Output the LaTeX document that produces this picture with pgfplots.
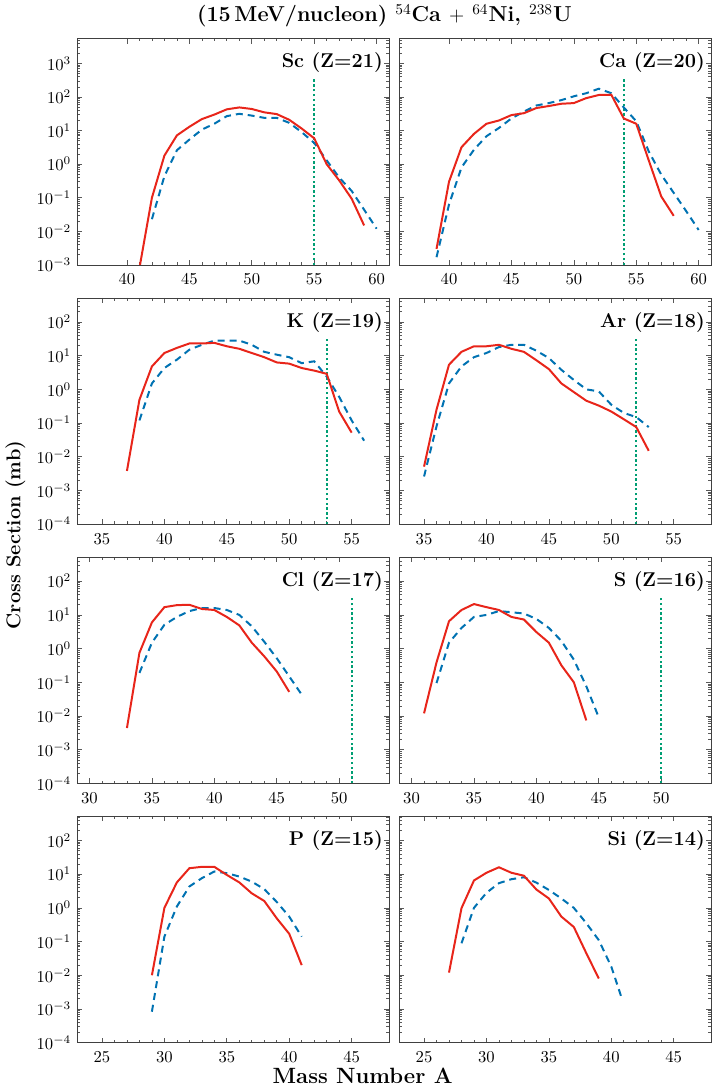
\documentclass[border=0pt]{standalone}
\usepackage{pgfplots}
\pgfplotsset{compat=1.18}
\usepgfplotslibrary{groupplots}

\definecolor{cred}{HTML}{E8251A}
\definecolor{cblue}{HTML}{0072B2}
\definecolor{cgreen}{HTML}{009E73}

\pgfplotsset{
  tdhf/.style={cred, line width=1.2pt, mark=none},
  gem/.style={cblue, line width=1.2pt, dash pattern=on 4.2pt off 3pt, mark=none},
  nline/.style={cgreen, line width=1.3pt, dash pattern=on 1.4pt off 1.5pt, mark=none},
  rowA/.style={xmin=36, xmax=61, ymin=1e-3, ymax=5500, xtick={40,45,...,60},
    ytick={1e-3,1e-2,1e-1,1,10,100,1000},
    minor ytick={2e-3,3e-3,4e-3,5e-3,6e-3,7e-3,8e-3,9e-3,
      2e-2,3e-2,4e-2,5e-2,6e-2,7e-2,8e-2,9e-2,
      0.2,0.3,0.4,0.5,0.6,0.7,0.8,0.9,2,3,4,5,6,7,8,9,
      20,30,40,50,60,70,80,90,200,300,400,500,600,700,800,900,
      2000,3000,4000,5000}},
  rowB/.style={ymin=1e-4, ymax=520, ytick={1e-4,1e-3,1e-2,1e-1,1,10,100},
    minor ytick={2e-4,3e-4,4e-4,5e-4,6e-4,7e-4,8e-4,9e-4,
      2e-3,3e-3,4e-3,5e-3,6e-3,7e-3,8e-3,9e-3,
      2e-2,3e-2,4e-2,5e-2,6e-2,7e-2,8e-2,9e-2,
      0.2,0.3,0.4,0.5,0.6,0.7,0.8,0.9,2,3,4,5,6,7,8,9,
      20,30,40,50,60,70,80,90,200,300,400,500}},
}
\newcommand{\zlab}[1]{\node[anchor=north east, font=\large\bfseries, inner sep=0pt,
  xshift=-3.6pt, yshift=-8.5pt] at (rel axis cs:1,1) {#1};}

\begin{document}
\begin{tikzpicture}
\begin{groupplot}[
  group style={group size=2 by 4, horizontal sep=6pt, vertical sep=19.8pt,
    yticklabels at=edge left},
  scale only axis, width=187.8pt, height=136.2pt,
  ymode=log, clip mode=individual,
  tick align=inside, xtick pos=both, ytick pos=both,
  minor x tick num=4,
  major tick length=3pt, minor tick length=1.7pt,
  axis line style={black!75},
  every tick/.style={black!65},
  tick label style={font=\normalsize},
  xticklabel style={yshift=-2pt},
]
% ---- row 1
\nextgroupplot[rowA]
\addplot[nline] coordinates {(55,1e-3) (55,355)};
\addplot[gem] coordinates {(42,0.023) (43,0.44) (44,2.6) (45,5.4) (46,10.7) (47,16) (48,27) (49,31.6) (50,28) (51,24) (52,24) (53,17) (54,9) (55,4.3) (56,1.3) (57,0.4) (58,0.16) (59,0.044) (60,0.012)};
\addplot[tdhf] coordinates {(41,8e-4) (42,0.1) (43,1.8) (44,7.2) (45,13) (46,22) (47,30) (48,43) (49,49) (50,44) (51,35) (52,31) (53,21) (54,11.5) (55,5.9) (56,1.0) (57,0.33) (58,0.094) (59,0.015)};
\zlab{Sc (Z=21)}
\node[anchor=south, font=\fontsize{13}{15}\selectfont\bfseries, inner xsep=0pt, inner ysep=3pt, yshift=3.6pt] at (rel axis cs:0.985,1)
  {(15\,MeV/nucleon) $^{54}$Ca $+$ $^{64}$Ni, $^{238}$U};

\nextgroupplot[rowA]
\addplot[nline] coordinates {(54,1e-3) (54,355)};
\addplot[gem] coordinates {(39,0.0017) (40,0.063) (41,0.8) (42,2.7) (43,6.8) (44,12) (45,23) (46,37) (47,56) (48,66) (49,81) (50,105) (51,130) (52,177) (53,130) (54,49) (55,19) (56,2.4) (57,0.49) (58,0.14) (59,0.04) (60,0.011)};
\addplot[tdhf] coordinates {(39,0.003) (40,0.3) (41,3.2) (42,8) (43,16) (44,20) (45,29) (46,33) (47,47) (48,54) (49,63) (50,66) (51,93) (52,115) (53,117) (54,23) (55,16) (56,1.3) (57,0.11) (58,0.029)};
\zlab{Ca (Z=20)}

% ---- row 2
\nextgroupplot[rowB, xmin=33, xmax=58, xtick={35,40,...,55}]
\addplot[nline] coordinates {(53,1e-4) (53,33.5)};
\addplot[gem] coordinates {(38,0.12) (39,1.5) (40,4.3) (41,7.6) (42,15) (43,21) (44,28) (45,28) (46,28) (47,21) (48,13) (49,10.7) (50,9) (51,6) (52,6.8) (53,2.4) (54,0.6) (55,0.12) (56,0.03)};
\addplot[tdhf] coordinates {(37,0.0038) (38,0.49) (39,4.8) (40,12) (41,17) (42,23) (43,23) (44,24) (45,19) (46,16) (47,12) (48,9) (49,6.3) (50,5.8) (51,4.3) (52,3.6) (53,2.9) (54,0.22) (55,0.052)};
\zlab{K (Z=19)}
\node[xshift=-37pt, rotate=90, anchor=center, font=\large\bfseries] at (rel axis cs:0,-0.048)
  {Cross Section (mb)};

\nextgroupplot[rowB, xmin=33, xmax=58, xtick={35,40,...,55}]
\addplot[nline] coordinates {(52,1e-4) (52,33.5)};
\addplot[gem] coordinates {(35,0.0026) (36,0.08) (37,1.5) (38,4.8) (39,9) (40,12) (41,18) (42,21) (43,21) (44,14) (45,8.5) (46,3.8) (47,1.9) (48,1.0) (49,0.87) (50,0.35) (51,0.2) (52,0.15) (53,0.076)};
\addplot[tdhf] coordinates {(35,0.0051) (36,0.25) (37,5.4) (38,13) (39,19) (40,19) (41,21) (42,16) (43,13) (44,7.3) (45,4) (46,1.5) (47,0.83) (48,0.46) (49,0.33) (50,0.22) (51,0.13) (52,0.076) (53,0.015)};
\zlab{Ar (Z=18)}

% ---- row 3
\nextgroupplot[rowB, xmin=29, xmax=54, xtick={30,35,...,50}]
\addplot[nline] coordinates {(51,1e-4) (51,33.5)};
\addplot[gem] coordinates {(34,0.19) (35,1.5) (36,5.1) (37,8.7) (38,13) (39,16) (40,16) (41,14) (42,10) (43,4.6) (44,1.6) (45,0.52) (46,0.15) (47,0.043)};
\addplot[tdhf] coordinates {(33,0.0044) (34,0.75) (35,6) (36,17) (37,19.5) (38,20) (39,15) (40,14) (41,8.7) (42,4.9) (43,1.5) (44,0.59) (45,0.21) (46,0.052)};
\zlab{Cl (Z=17)}

\nextgroupplot[rowB, xmin=29, xmax=54, xtick={30,35,...,50}]
\addplot[nline] coordinates {(50,1e-4) (50,33.5)};
\addplot[gem] coordinates {(32,0.095) (33,1.5) (34,4.1) (35,8.7) (36,10) (37,13) (38,12) (39,11) (40,7.6) (41,4.1) (42,1.7) (43,0.47) (44,0.076) (45,0.009)};
\addplot[tdhf] coordinates {(31,0.012) (32,0.39) (33,6.5) (34,14) (35,21) (36,17) (37,14) (38,8.7) (39,7.3) (40,3.1) (41,1.5) (42,0.32) (43,0.1) (44,0.0074)};
\zlab{S (Z=16)}

% ---- row 4
\nextgroupplot[rowB, xmin=23, xmax=48, xtick={25,30,...,45}]
\addplot[gem] coordinates {(29,0.00083) (30,0.14) (31,1.1) (32,4.3) (33,7.6) (34,12) (35,10.7) (36,8.5) (37,6) (38,3.6) (39,1.5) (40,0.55) (41,0.14)};
\addplot[tdhf] coordinates {(29,0.01) (30,1.0) (31,5.7) (32,15) (33,16.5) (34,16.5) (35,9.5) (36,5.7) (37,2.7) (38,1.6) (39,0.49) (40,0.17) (41,0.02)};
\zlab{P (Z=15)}
\node[anchor=base, font=\fontsize{13.3}{15}\selectfont\bfseries, inner xsep=0pt, inner ysep=2pt, yshift=-24.6pt] at (rel axis cs:0.915,0)
  {Mass Number A};

\nextgroupplot[rowB, xmin=23, xmax=48, xtick={25,30,...,45}]
\addplot[gem] coordinates {(28,0.089) (29,1.0) (30,2.8) (31,5.4) (32,7.1) (33,8.1) (34,5.6) (35,3.4) (36,1.9) (37,1.0) (38,0.35) (39,0.11) (40,0.018) (40.8,0.0023)};
\addplot[tdhf] coordinates {(27,0.012) (28,0.98) (29,6.5) (30,11) (31,16) (32,11) (33,9) (34,3.5) (35,1.9) (36,0.55) (37,0.27) (38,0.045) (39,0.008)};
\zlab{Si (Z=14)}
\end{groupplot}
\end{tikzpicture}
\end{document}
